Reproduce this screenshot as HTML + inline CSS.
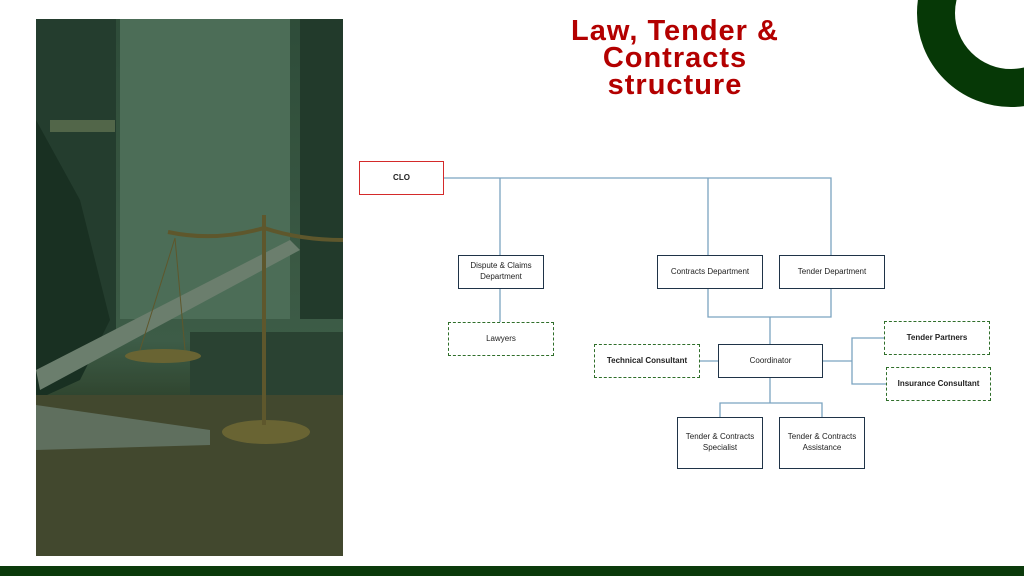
<!DOCTYPE html>
<html><head><meta charset="utf-8"><style>
body{margin:0;width:1024px;height:576px;overflow:hidden;background:#fff;position:relative;font-family:"Liberation Sans",sans-serif}
.b{position:absolute;box-sizing:border-box;border:1.5px solid #1f3347;background:#fff;display:flex;align-items:center;justify-content:center;text-align:center;font-size:8px;color:#222;line-height:1.35}
.d{border:1.5px dashed #2f6e2a;font-weight:bold;font-size:8px}
.t{position:absolute;left:500px;width:350px;top:18px;text-align:center;color:#b30000;font-weight:bold;font-size:29px;line-height:27px;letter-spacing:1px}
</style></head><body>
<svg width="1024" height="576" style="position:absolute;left:0;top:0">
<defs>
<linearGradient id="g" x1="0" y1="0" x2="0" y2="1"><stop offset="0" stop-color="#35503f"/><stop offset=".6" stop-color="#46624f"/><stop offset=".72" stop-color="#34432f"/><stop offset="1" stop-color="#44422a"/></linearGradient>
<clipPath id="c"><rect x="36" y="19" width="307" height="537"/></clipPath>
</defs>
<g clip-path="url(#c)">
<rect x="36" y="19" width="307" height="537" fill="url(#g)"/>
<rect x="120" y="19" width="170" height="300" fill="#587662"/>
<rect x="36" y="19" width="80" height="320" fill="#283e32"/>
<rect x="300" y="19" width="43" height="300" fill="#263a2e"/>
<rect x="50" y="120" width="65" height="12" fill="#5e6e52"/>
<path d="M36 120 L80 200 L110 320 L80 380 L36 400Z" fill="#1c2e24"/>
<path d="M36 370 L290 240 L300 250 L40 390Z" fill="#7c8a7c"/>
<rect x="190" y="332" width="153" height="80" fill="#2f4337"/>
<rect x="36" y="395" width="307" height="161" fill="#4c4a32"/>
<path d="M36 405 L210 430 L210 445 L36 450Z" fill="#6e786a"/>
<ellipse cx="163" cy="356" rx="38" ry="7" fill="#7a6c38"/>
<ellipse cx="266" cy="432" rx="44" ry="12" fill="#7a6c38"/>
<rect x="262" y="215" width="4" height="210" fill="#6d5c30"/>
<path d="M168 232 Q215 242 264 228 Q300 240 343 240" stroke="#6d5c30" stroke-width="4" fill="none"/>
<path d="M175 238 L140 350 M175 238 L185 350" stroke="#6d5c30" stroke-width="1"/>
<rect x="36" y="19" width="307" height="537" fill="#0c3a1a" opacity=".15"/>
</g>
<circle cx="1011" cy="13" r="75" fill="none" stroke="#063806" stroke-width="38"/>
<rect x="0" y="566" width="1024" height="10" fill="#0b3a0b"/>
<g stroke="#7ba3c0" stroke-width="1.3" fill="none">
<path d="M444 178H831V255M500 178V255M708 178V255"/>
<path d="M500 288V322"/>
<path d="M708 288V317H831V288M770 317V344"/>
<path d="M699 361H718M822 361H852M884 338H852V384H886"/>
<path d="M770 378V403M720 417V403H822V417"/>
</g>
</svg>
<div class="t">Law, Tender &amp;<br>Contracts<br>structure</div>
<div class="b" style="left:359px;top:161px;width:85px;height:34px;border-color:#d42a2a;font-weight:bold">CLO</div>
<div class="b" style="left:458px;top:255px;width:86px;height:34px">Dispute &amp; Claims<br>Department</div>
<div class="b" style="left:657px;top:255px;width:106px;height:34px">Contracts Department</div>
<div class="b" style="left:779px;top:255px;width:106px;height:34px">Tender Department</div>
<div class="b d" style="left:448px;top:322px;width:106px;height:34px;font-weight:normal">Lawyers</div>
<div class="b d" style="left:594px;top:344px;width:106px;height:34px">Technical Consultant</div>
<div class="b" style="left:718px;top:344px;width:105px;height:34px">Coordinator</div>
<div class="b d" style="left:884px;top:321px;width:106px;height:34px">Tender Partners</div>
<div class="b d" style="left:886px;top:367px;width:105px;height:34px">Insurance Consultant</div>
<div class="b" style="left:677px;top:417px;width:86px;height:52px">Tender &amp; Contracts<br>Specialist</div>
<div class="b" style="left:779px;top:417px;width:86px;height:52px">Tender &amp; Contracts<br>Assistance</div>
</body></html>
